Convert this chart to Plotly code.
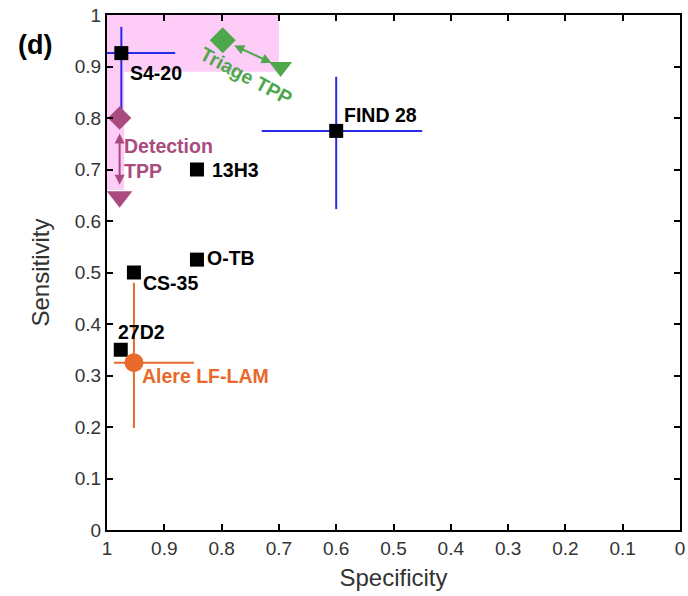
import plotly.graph_objects as go

# ---------------- data ----------------
tests = ["S4-20", "FIND 28", "13H3", "O-TB", "CS-35", "27D2"]
test_spec = [0.975, 0.600, 0.843, 0.843, 0.953, 0.976]
test_sens = [0.926, 0.775, 0.700, 0.525, 0.500, 0.350]
# confidence intervals (None = not shown)
test_spec_lo = [0.881, 0.450, None, None, None, None]
test_spec_hi = [1.000, 0.730, None, None, None, None]
test_sens_lo = [0.800, 0.623, None, None, None, None]
test_sens_hi = [0.977, 0.880, None, None, None, None]

lam_name = "Alere LF-LAM"
lam_spec = [0.953]
lam_sens = [0.325]
lam_spec_lo = [0.848]
lam_spec_hi = [0.988]
lam_sens_lo = [0.198]
lam_sens_hi = [0.480]

triage_spec = [0.798, 0.697]   # optimal, minimal
triage_sens = [0.951, 0.899]
detect_spec = [0.978, 0.978]
detect_sens = [0.800, 0.647]

triage_region = dict(spec=(0.70, 1.0), sens=(0.89, 1.0))
detect_region = dict(spec=(0.97, 1.0), sens=(0.66, 1.0))

x_ticks = [round(i * 0.1, 1) for i in range(11)]
y_ticks = [round(i * 0.1, 1) for i in range(11)]

# label offsets in pixels (style)
label_shift = {
    "S4-20": (7, -20), "FIND 28": (6, 16), "13H3": (13, 0),
    "O-TB": (8, 2), "CS-35": (7, -10), "27D2": (-5, 18),
}

BLUE = "#2a2ae6"
ORANGE = "#e8692a"
GREEN = "#4ea84b"
PURPLE = "#a94b7e"
PINK = "#fdcdf8"
FONT = "Liberation Sans, Arial, sans-serif"


def plus(v, hi):
    return [None if h is None else h - x for x, h in zip(v, hi)]


def minus(v, lo):
    return [None if l is None else x - l for x, l in zip(v, lo)]


def z(a):
    return [0 if e is None else e for e in a]


fig = go.Figure()

for reg in (triage_region, detect_region):
    fig.add_shape(type="rect", xref="x", yref="y",
                  x0=reg["spec"][0], x1=reg["spec"][1],
                  y0=reg["sens"][0], y1=reg["sens"][1],
                  fillcolor=PINK, line_width=0, layer="below")

fig.add_trace(go.Scatter(
    x=test_spec, y=test_sens, mode="markers",
    marker=dict(symbol="square", size=14, color="black", opacity=1),
    error_x=dict(type="data", symmetric=False,
                 array=z(plus(test_spec, test_spec_hi)),
                 arrayminus=z(minus(test_spec, test_spec_lo)),
                 width=0, thickness=2, color=BLUE),
    error_y=dict(type="data", symmetric=False,
                 array=z(plus(test_sens, test_sens_hi)),
                 arrayminus=z(minus(test_sens, test_sens_lo)),
                 width=0, thickness=2, color=BLUE),
    showlegend=False, hoverinfo="skip"))

fig.add_trace(go.Scatter(
    x=lam_spec, y=lam_sens, mode="markers",
    marker=dict(symbol="circle", size=19, color=ORANGE, opacity=1),
    error_x=dict(type="data", symmetric=False,
                 array=plus(lam_spec, lam_spec_hi),
                 arrayminus=minus(lam_spec, lam_spec_lo),
                 width=0, thickness=2, color=ORANGE),
    error_y=dict(type="data", symmetric=False,
                 array=plus(lam_sens, lam_sens_hi),
                 arrayminus=minus(lam_sens, lam_sens_lo),
                 width=0, thickness=2, color=ORANGE),
    showlegend=False, hoverinfo="skip"))

fig.add_trace(go.Scatter(
    x=triage_spec, y=triage_sens, mode="markers",
    marker=dict(symbol=["diamond", "triangle-down"], size=[20, 20], color=GREEN,
                opacity=1, line=dict(width=0)),
    showlegend=False, hoverinfo="skip"))

fig.add_trace(go.Scatter(
    x=detect_spec, y=detect_sens, mode="markers",
    marker=dict(symbol=["diamond", "triangle-down"], size=[18, 22], color=PURPLE,
                opacity=1, line=dict(width=0)),
    showlegend=False, hoverinfo="skip"))

# double-headed arrows between optimal and minimal TPP
fig.add_annotation(x=triage_spec[1], y=triage_sens[1], ax=triage_spec[0], ay=triage_sens[0],
                   xref="x", yref="y", axref="x", ayref="y", text="",
                   showarrow=True, arrowside="end+start", arrowhead=2, arrowsize=1,
                   arrowwidth=2, arrowcolor=GREEN, standoff=10, startstandoff=11)
fig.add_annotation(x=detect_spec[1], y=detect_sens[1], ax=detect_spec[0], ay=detect_sens[0],
                   xref="x", yref="y", axref="x", ayref="y", text="",
                   showarrow=True, arrowside="end+start", arrowhead=2, arrowsize=1,
                   arrowwidth=2, arrowcolor=PURPLE, standoff=12, startstandoff=14)

# text labels
for name, sx, sy in zip(tests, test_spec, test_sens):
    dx, dy = label_shift[name]
    fig.add_annotation(x=sx, y=sy, xref="x", yref="y", text=f"<b>{name}</b>",
                       showarrow=False, xanchor="left", yanchor="middle",
                       xshift=dx, yshift=dy,
                       font=dict(family=FONT, size=19.5, color="black"))

fig.add_annotation(x=lam_spec[0], y=lam_sens[0], xref="x", yref="y",
                   text=f"<b>{lam_name}</b>", showarrow=False,
                   xanchor="left", yanchor="middle", xshift=6, yshift=-13,
                   font=dict(family=FONT, size=19.5, color=ORANGE))

fig.add_annotation(x=detect_spec[0], y=detect_sens[0], xref="x", yref="y",
                   text="<b>Detection<br>TPP</b>", showarrow=False, align="left",
                   xanchor="left", yanchor="top", xshift=2, yshift=-15,
                   font=dict(family=FONT, size=19.5, color=PURPLE))

fig.add_annotation(x=(triage_spec[0] + triage_spec[1]) / 2,
                   y=(triage_sens[0] + triage_sens[1]) / 2, xref="x", yref="y",
                   text="<b>Triage TPP</b>", showarrow=False, textangle=28,
                   xshift=-5, yshift=-22,
                   font=dict(family=FONT, size=19.5, color=GREEN))

fig.add_annotation(x=-0.125, y=0.942, xref="paper", yref="paper", text="<b>(d)</b>",
                   xanchor="center", yanchor="middle",
                   showarrow=False, font=dict(family=FONT, size=27, color="black"))

axis_common = dict(showgrid=False, zeroline=False, showline=True, linecolor="black",
                   linewidth=2, mirror="ticks", ticks="inside", ticklen=6,
                   tickwidth=2, tickcolor="black", ticklabeloverflow="allow",
                   tickfont=dict(family=FONT, size=19, color="#333333"))

fig.update_xaxes(range=[1, 0], tickvals=x_ticks, ticktext=[f"{v:g}" for v in x_ticks],
                 title=dict(text="Specificity", standoff=11,
                            font=dict(family=FONT, size=24, color="#333333")),
                 **axis_common)
fig.update_yaxes(range=[0, 1], tickvals=y_ticks, ticktext=[f"{v:g}" for v in y_ticks],
                 title=dict(text="Sensitivity", standoff=18,
                            font=dict(family=FONT, size=24, color="#333333")),
                 **axis_common)

fig.update_layout(width=688, height=596, margin=dict(l=107, r=3, t=15, b=66),
                  plot_bgcolor="white", paper_bgcolor="white",
                  font=dict(family=FONT))

fig.write_html("out.html")
